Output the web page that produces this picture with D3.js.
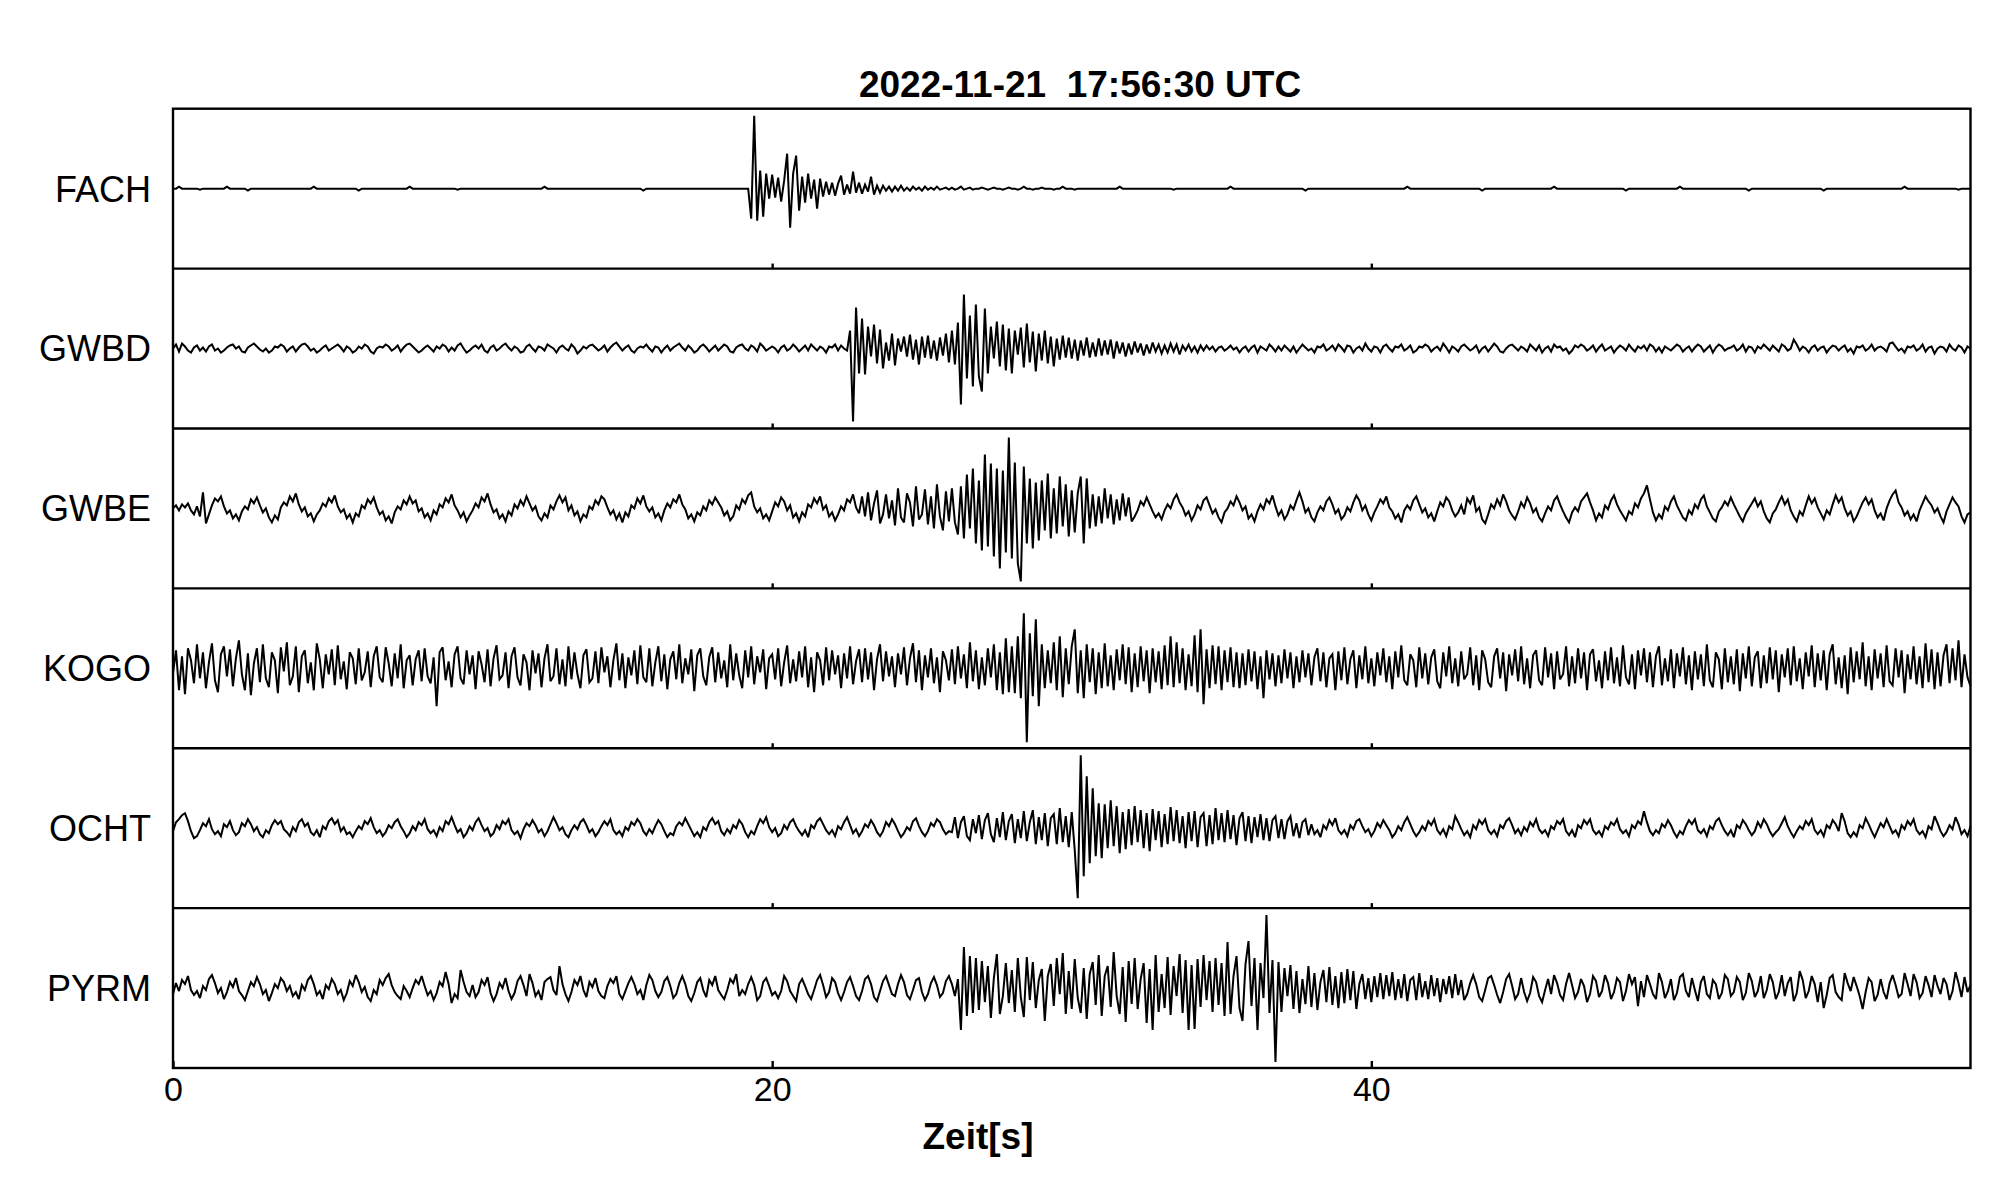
<!DOCTYPE html>
<html>
<head>
<meta charset="utf-8">
<script src="https://cdn.jsdelivr.net/npm/d3@7"></script>
<style>
  html, body { margin: 0; padding: 0; background: #fff; }
  svg { display: block; }
  text { font-family: "Liberation Sans", Arial, Helvetica, sans-serif; fill: #000; }
</style>
</head>
<body>
<svg id="chart" width="2005" height="1202"></svg>
<script>
// ---------------- data ----------------
const title = "2022-11-21  17:56:30 UTC";
const xLabel = "Zeit[s]";
const stations = ["FACH", "GWBD", "GWBE", "KOGO", "OCHT", "PYRM"];
const xTickValues = [0, 20, 40];
const timeSpan = [0, 60];          // seconds, samples every 0.1 s
const ampRange = [-80, 80];        // relative amplitude per trace

const FACH = [
0,0,2,0,0,0,0,0,0,-1,
0,0,0,0,0,0,0,0,2,0,
0,0,0,0,0,-2,0,0,0,0,
0,0,0,0,0,0,0,0,0,0,
0,0,0,0,0,0,0,2,0,0,
0,0,0,0,0,0,0,0,0,0,
0,0,-2,0,0,0,0,0,0,0,
0,0,0,0,0,0,0,0,0,2,
0,0,0,0,0,0,0,0,0,0,
0,0,0,0,0,-1,0,0,0,0,
0,0,0,0,0,0,0,0,0,0,
0,0,0,0,0,0,0,0,0,0,
0,0,0,0,2,0,0,0,0,0,
0,0,0,0,0,0,0,0,0,0,
0,0,0,0,0,0,0,0,0,0,
0,0,0,0,0,0,0,-2,0,0,
0,0,0,0,0,0,0,0,0,0,
0,0,0,0,0,0,0,0,0,0,
0,0,0,0,0,0,0,0,0,0,
0,0,0,-30,73,-32,18,-28,15,-10,
14,-9,11,-13,8,35,-39,15,33,-22,
12,-14,15,-10,9,-20,10,-8,7,-6,
6,-7,5,13,-6,4,-5,17,-4,6,
-5,4,-3,12,-6,3,-4,3,-2,2,
-3,2,-2,3,-2,1,-2,2,-1,1,
-2,2,-1,1,-1,2,-1,0,1,-1,
1,-1,0,2,-1,0,1,-1,0,0,
1,0,-1,0,1,0,0,-1,0,1,
0,0,-1,0,2,0,0,-1,0,0,
1,0,0,0,-1,0,0,2,0,0,
0,-1,0,0,0,0,0,0,0,0,
0,0,0,0,0,0,2,0,0,0,
0,0,0,0,0,0,0,0,0,0,
0,0,0,0,-1,0,0,0,0,0,
0,0,0,0,0,0,0,0,0,0,
0,0,0,2,0,0,0,0,0,0,
0,0,0,0,0,0,0,0,0,0,
0,0,0,0,0,0,0,0,-2,0,
0,0,0,0,0,0,0,0,0,0,
0,0,0,0,0,0,0,0,0,0,
0,0,0,0,0,0,0,0,0,0,
0,0,2,0,0,0,0,0,0,0,
0,0,0,0,0,0,0,0,0,0,
0,0,0,0,0,0,0,-2,0,0,
0,0,0,0,0,0,0,0,0,0,
0,0,0,0,0,0,0,0,0,0,
0,2,0,0,0,0,0,0,0,0,
0,0,0,0,0,0,0,0,0,0,
0,0,0,0,0,-2,0,0,0,0,
0,0,0,0,0,0,0,0,0,0,
0,0,0,2,0,0,0,0,0,0,
0,0,0,0,0,0,0,0,0,0,
0,0,0,0,0,0,-2,0,0,0,
0,0,0,0,0,0,0,0,0,0,
0,0,0,0,0,0,0,0,0,0,
0,-2,0,0,0,0,0,0,0,0,
0,0,0,0,0,0,0,0,0,0,
0,0,0,0,0,0,0,0,2,0,
0,0,0,0,0,0,0,0,0,0,
0,0,0,0,0,0,-1,0,0,0,
0];

const GWBD = [
0,4,-3,5,2,-2,-4,1,3,-2,
1,-3,2,4,-2,0,-4,-2,1,3,
4,0,2,-3,-4,1,3,5,2,-1,
-3,0,-4,-2,2,1,4,2,-3,0,
2,-3,1,4,5,2,-2,0,-4,-2,
1,3,-2,0,2,4,1,-3,2,0,
-4,-2,2,0,4,2,-3,-5,0,2,
1,4,2,-2,0,3,-3,1,4,5,
2,-1,-4,-2,1,3,0,-3,2,0,
4,2,-3,1,-2,3,5,0,-4,-2,
1,3,0,4,-2,-4,1,3,-2,0,
3,5,1,-2,2,0,-4,-3,2,4,
0,-3,2,1,-2,4,2,0,-4,1,
3,0,-2,4,1,-5,-2,2,0,3,
4,1,-2,0,3,-3,1,4,6,2,
-2,1,3,-2,-4,0,2,1,4,0,
-3,2,1,-4,0,3,-2,1,3,5,
1,-2,3,0,-4,-2,2,4,1,-3,
0,3,-2,1,4,2,-3,-4,1,3,
4,0,-2,3,1,-3,5,2,-2,0,
2,0,-4,1,3,-2,0,4,1,-3,
0,3,-2,4,1,-2,2,0,-4,2,
1,4,-2,3,0,-2,18,-73,41,-25,
30,-26,22,-8,24,-15,19,-20,6,-12,
15,-17,10,-3,12,-8,14,-11,9,-16,
12,-9,13,-10,8,-12,11,-7,15,-14,
18,-16,26,-56,54,-30,33,-38,44,-28,
-43,40,-25,22,-10,27,-18,24,-22,20,
-25,18,-6,21,-19,25,-14,17,-23,15,
-12,18,-15,12,-18,10,-11,13,-9,11,
-10,9,-12,8,-7,11,-9,6,-8,10,
-7,8,-6,9,-10,7,-5,6,-8,5,
-6,7,-4,5,-7,4,-5,6,-3,4,
-5,3,-4,5,-3,4,-6,3,-2,4,
-3,2,-4,3,-2,3,-1,2,-3,1,
2,-2,0,3,-1,1,-4,0,2,-3,
1,3,-4,2,0,-2,4,1,-3,2,
-2,3,0,-3,2,-4,0,4,1,-2,
0,-4,2,1,4,-2,0,3,-2,4,
1,-3,3,2,-4,0,2,-2,5,0,
-3,2,1,-4,2,4,0,-3,2,1,
4,-2,0,3,-4,-2,2,1,4,2,
-3,0,2,-2,5,1,-4,2,0,-3,
2,4,1,-2,0,3,-4,0,2,-3,
1,5,2,-3,-4,0,3,4,1,-2,
2,0,-3,4,1,-2,3,-4,0,2,
-3,4,1,2,-2,0,-5,-2,3,1,
4,2,-2,0,3,-3,1,4,-2,0,
2,-4,0,3,1,-2,4,0,-3,2,
0,3,-2,4,2,-3,1,-4,2,0,
-2,1,4,2,-3,0,2,-3,1,4,
2,-3,0,3,-4,1,4,2,-2,0,
1,3,-2,0,4,-3,2,1,-4,2,
0,4,1,-2,3,0,-3,4,2,-2,
0,9,4,-2,2,0,-4,1,3,-2,
1,2,-4,0,3,2,-2,1,3,-3,
0,-5,2,1,3,-2,0,4,-2,1,
2,0,-3,5,6,2,-2,0,-4,2,
1,3,-2,0,4,-3,1,2,-5,0,
2,1,-3,4,0,-2,3,1,-4,2,
0];

const GWBE = [
0,3,-2,4,1,5,-2,-6,2,-8,
16,-15,-6,3,10,7,12,2,-5,-2,
-10,-6,-12,-3,2,-1,9,5,11,3,
-4,0,-9,-14,-7,-11,1,6,3,12,
7,15,4,-3,1,-8,-5,-13,-6,-2,
5,2,10,6,13,2,-4,-1,-10,-6,
-14,-5,-8,3,0,9,5,11,1,-6,
-3,-12,-8,-15,-4,2,-1,8,4,12,
5,8,-3,0,-9,-5,-12,-2,-6,4,
1,10,6,14,3,-2,-9,-4,-13,-7,
-2,5,1,11,7,15,4,-4,-1,-10,
-6,-13,-3,-7,4,0,8,3,12,5,
-2,2,-8,-12,-5,-9,3,-1,7,13,
6,11,-2,3,-7,-3,-13,-6,-9,2,
-1,8,4,12,9,1,-6,-2,-11,-5,
-14,-4,-8,3,0,10,5,13,2,-3,
1,-9,-5,-12,-2,5,1,9,6,14,
4,-1,-10,-6,-13,-4,-7,2,-2,8,
4,11,6,1,-7,-3,-12,-8,3,-1,
9,5,13,16,2,-4,0,-10,-6,-12,
-3,6,2,11,7,-2,3,-9,-5,-13,
-4,-8,4,1,10,5,12,-1,3,-8,
-4,-12,-6,2,-2,9,6,14,1,-5,
12,-8,16,-12,5,18,-15,-6,14,-10,
8,-17,20,-9,-14,15,6,-18,22,-11,
-6,19,-16,12,-20,24,-8,-22,17,-13,
20,-14,-26,22,-30,34,-20,40,-35,28,
-42,54,-38,45,-48,40,-60,38,-44,71,
-50,46,-55,-73,42,-35,30,-40,26,-32,
28,-22,35,-30,20,-25,32,-18,24,-28,
18,-24,15,32,-35,30,-20,14,-18,12,
-15,20,-10,14,-16,9,-12,15,-8,11,
-13,-8,-2,7,3,11,4,-3,-9,-5,
-11,-2,4,0,9,14,6,1,-7,-3,
-12,-6,3,-1,8,11,3,-5,-1,-9,
-14,-4,0,7,3,12,6,-2,2,-10,
-6,-13,-3,4,-1,9,5,13,2,-7,
-2,-11,-6,3,-1,8,16,7,-4,0,
-9,-13,-4,2,-2,7,11,4,-5,-1,
-11,-7,1,-3,6,13,8,-2,3,-6,
-12,-4,2,9,5,12,1,-3,-10,-6,
-14,-2,3,-1,8,12,4,-4,0,-9,
-5,-13,-3,6,2,11,7,-2,-8,-4,
3,-6,10,5,13,-3,1,-11,-15,-6,
4,0,9,3,14,7,-2,-7,-11,-3,
6,1,11,5,-4,0,-9,-13,-5,2,
-2,8,12,4,-3,-9,-14,-4,1,-3,
7,11,15,6,-2,-12,-5,-9,3,-1,
8,13,4,-2,-7,-12,-3,-6,5,1,
10,15,23,9,-4,-12,-6,-10,2,-2,
7,12,3,-3,-9,-12,-2,-6,4,0,
9,13,2,-4,-10,-13,-3,1,7,3,
11,4,-2,-8,-13,-5,0,5,10,2,
7,-3,-10,-14,-5,-1,6,12,4,9,
-2,-8,-13,-3,-7,3,12,5,10,1,
-5,-11,-2,-6,4,13,6,11,0,-7,
-3,-13,-8,-1,6,11,4,9,-2,-9,
-5,-12,0,8,14,18,6,1,-7,-3,
-11,-6,-13,-2,5,12,7,3,-4,0,
-8,-14,-3,4,11,6,2,-8,-14,-6,
-4];

const KOGO = [
-5,18,-22,12,-26,20,8,-15,24,-10,
16,-20,6,25,-12,-24,14,22,-8,19,
-18,10,28,-6,-22,15,-27,5,20,-14,
24,-10,-19,16,8,-25,21,-3,26,-17,
-8,22,-24,12,18,-15,6,-22,25,9,
-20,14,-6,19,-17,23,-11,7,-21,16,
10,-16,20,-12,-4,17,-19,12,22,-9,
-14,21,5,-18,15,-10,24,-20,8,13,
-17,9,18,-13,20,-8,-15,11,-38,16,
21,-12,7,-19,14,22,-10,-16,18,-6,
13,-21,17,4,-14,19,-18,10,23,-11,
-7,16,-20,12,21,-9,-17,14,6,-22,
18,-5,15,-19,10,24,-13,-8,20,-16,
9,-18,22,-11,16,-6,-20,13,19,-14,
-10,17,-15,21,-4,12,-19,8,25,-12,
15,-20,11,-7,18,-16,23,-9,-14,20,
-18,6,22,-13,14,-21,9,17,-11,24,
-15,10,-6,19,-23,13,20,-8,-17,11,
21,-14,16,-10,8,-19,24,-12,15,-7,
-20,18,-9,22,-16,12,-4,19,-21,10,
14,-11,20,-18,6,23,-15,9,-13,17,
-9,22,-19,11,-24,16,8,-17,21,-12,
18,-6,13,-20,15,-10,22,-16,7,19,
-14,20,-11,16,-22,9,24,-13,17,-8,
12,-19,15,-6,21,-17,10,25,-14,18,
-22,13,-9,20,-15,11,-24,17,8,-12,
19,-16,22,-10,14,-20,26,-13,18,-21,
11,-17,20,-9,24,-22,16,-26,30,-24,
22,-25,32,-30,55,-74,35,-28,49,-38,
24,-20,18,-15,26,-22,32,-29,20,-16,
22,39,-25,18,-30,24,-14,20,-26,16,
-20,25,-18,13,-22,19,-12,24,-16,21,
-24,15,-19,22,-13,18,-25,20,-14,17,
-21,23,-17,32,-19,26,-15,20,-22,14,
-18,33,-24,39,-36,19,-20,23,-16,22,
-22,18,-14,21,-19,16,-20,15,-17,19,
-13,17,-21,12,-30,18,-11,15,-18,13,
-15,19,-10,16,-20,12,-14,18,-9,15,
-17,11,20,-13,16,-19,10,14,-22,17,
-12,21,-16,9,18,-20,13,-11,22,-15,
10,-18,16,-7,20,-14,12,-21,17,-9,
23,-12,-17,14,8,-19,21,-10,15,-16,
11,19,-13,-20,16,-8,22,-15,10,-18,
17,-11,-6,21,-17,13,-22,18,9,-14,
-19,12,20,-10,16,-23,14,-7,19,-13,
22,-16,10,-20,13,18,-12,-17,21,-9,
15,-21,17,-11,-6,22,-18,12,-15,20,
-10,16,-22,14,19,-13,8,-20,17,-12,
21,-15,11,-18,23,-9,-16,14,-21,18,
-7,20,-14,16,-19,12,22,-17,10,-13,
19,-20,15,-8,21,-16,13,-22,17,-11,
14,-18,24,-12,-19,16,9,-21,20,-14,
12,-16,19,-23,15,-10,22,-18,11,17,
-20,13,-15,21,-11,18,-24,14,-9,20,
-17,22,-13,10,-21,16,-8,23,-19,15,
-12,18,-22,14,24,-16,11,-20,13,-26,
21,-14,17,-11,26,-18,12,-22,19,-10,
15,-19,23,-13,-17,20,-9,18,-25,14,
-11,22,-16,12,-20,25,-14,19,-21,16,
-18,13,24,-15,20,-12,28,-19,14,-9,
-18];

const OCHT = [
-3,6,9,13,15,7,-3,-10,-8,-2,
5,2,9,-1,-6,-3,-8,4,1,7,
-2,-7,-4,5,2,9,4,-3,1,-6,
-9,-2,-5,3,8,4,7,-1,-4,-8,
1,-3,6,9,2,5,-4,-7,-2,-9,
2,-1,7,10,4,8,-3,1,-6,-4,
-9,-3,2,-1,7,4,10,1,-5,-2,
-8,-4,3,0,6,9,2,-3,-9,-5,
2,-2,6,3,9,-1,-5,-2,-8,1,
-3,7,4,11,3,-4,-1,-9,-5,2,
-2,6,10,3,-3,0,-8,-5,3,-1,
7,4,9,-2,-6,-3,-10,-1,5,2,
8,3,-4,-1,-8,-3,4,11,5,-2,
1,-6,-9,-2,3,-1,6,9,3,-4,
-1,-8,-4,2,7,3,9,-2,-6,-3,
-8,1,-2,6,3,9,5,-3,-7,-1,
-5,2,8,4,-3,-9,-5,-7,2,6,
3,10,4,-2,-8,-4,-9,1,-2,6,
10,4,7,-3,-7,-1,-5,3,0,8,
4,-4,-9,-3,-6,2,9,5,11,1,
-4,0,-8,-5,3,-1,6,9,2,-3,
-7,-2,-9,3,0,7,10,4,-2,-6,
-2,-8,2,-1,6,11,3,-5,-1,-8,
-3,4,1,8,3,-4,-8,-3,6,2,
9,4,-3,-9,-5,1,-2,7,10,2,
-4,-8,-3,5,2,9,6,-1,-6,-3,
-4,11,-10,6,12,-8,-12,9,-5,13,
-11,8,15,-6,-14,10,-9,16,-12,7,
14,-15,9,-10,17,-13,6,18,-16,11,
-12,15,-18,10,14,-16,20,-14,12,-19,
16,-22,-70,73,-48,52,-35,40,-28,25,
-30,24,-20,28,-18,22,-25,16,-21,19,
-17,22,-14,18,-20,15,-23,19,-12,17,
-19,14,-16,21,-13,18,-15,12,-20,16,
-13,17,-19,11,15,-18,13,-16,20,-12,
15,-14,18,-11,13,-17,10,16,-13,12,
-15,11,-9,14,-12,10,-13,8,12,-10,
9,-11,7,12,-8,5,-10,6,9,-7,
4,-6,-2,-9,3,-1,8,3,10,-2,
-6,-2,-8,3,-1,7,9,2,-4,-1,
-8,-3,5,1,8,3,-2,-9,-5,2,
-2,6,11,4,-3,-8,-4,2,-2,7,
3,9,-2,-6,-1,-8,2,-1,12,6,
-1,-7,-3,-9,3,-1,8,4,9,-2,
-6,-2,-8,3,0,7,10,3,-5,-1,
-7,1,-3,6,2,9,-1,-5,-2,-8,
2,-1,7,4,9,-3,-7,-2,-9,3,
0,8,4,9,-2,-6,-3,-8,2,-1,
6,3,9,-1,-5,-2,-8,3,0,7,
4,17,6,-3,-7,-2,-5,4,1,8,
3,-4,-9,-3,-6,2,8,4,9,-2,
-5,-1,-8,2,-1,7,10,3,-3,-7,
-2,-9,3,0,8,4,-2,-7,-3,6,
1,9,4,-3,-8,-4,-1,5,11,2,
-4,-9,-3,2,-1,7,3,9,-2,-6,
-2,-8,3,0,8,4,-3,15,7,-5,
-9,-4,-8,3,0,10,4,-3,-9,-2,
5,1,9,2,-5,-2,-8,3,-1,7,
3,9,-2,-6,-3,-9,2,-1,12,5,
-3,-8,-4,3,-1,11,4,-6,-2,-8,
2];

const PYRM = [
-6,5,-3,8,4,12,-2,-7,-3,-10,
2,-2,9,13,5,-5,0,-11,-4,6,
1,10,-3,-7,-12,-3,6,2,11,4,
-6,-2,-13,-5,4,0,10,6,-3,2,
-8,-4,-11,3,-2,8,12,4,-7,-3,
-11,3,-1,9,4,-6,-2,-12,-5,7,
2,13,6,-4,1,-9,-13,-2,-6,8,
3,10,14,3,-4,-8,-11,2,-3,-9,
0,8,4,12,2,-7,-3,-12,-5,6,
2,16,4,-15,-6,-10,18,6,-4,-8,
3,-9,-4,8,3,11,-5,-13,-6,5,
0,10,-3,-11,-5,7,12,3,-8,14,
5,-8,-3,-12,6,9,11,-2,-7,22,
4,-6,-13,-4,8,3,12,-2,-9,6,
1,10,-3,-8,-10,2,9,5,12,-6,
-11,-3,5,11,4,-6,-2,-12,3,13,
8,-3,-9,-4,7,11,2,-10,-6,5,
12,4,-8,-13,-5,6,10,-2,-9,8,
3,12,-2,-7,-11,-2,9,5,14,-8,
-2,-6,4,11,3,-12,-8,6,10,2,
-7,-4,-10,-3,12,7,-3,-8,-13,4,
9,2,-6,-11,-2,8,13,3,-9,-4,
10,6,-5,-12,-4,6,11,2,-8,-12,
-3,9,12,4,-9,-13,-3,7,12,3,
-6,-8,4,13,6,-7,-11,-2,8,10,
-4,-12,-6,5,11,3,-9,-5,7,12,
4,-8,9,-42,41,-28,32,-25,30,-22,
27,-14,22,-30,10,34,-26,-8,25,-15,
18,-24,30,-9,-29,31,-12,26,-20,8,
19,-33,12,24,-18,30,-6,35,-26,17,
-21,29,-10,-25,20,-31,14,26,-17,33,
-28,12,22,-19,36,-8,-26,21,-34,27,
-16,30,-21,9,25,-35,19,-42,33,-24,
14,-20,31,-27,22,-8,34,-25,28,-42,
23,-41,29,-19,33,-12,27,-24,30,-17,
25,-28,46,-26,12,32,-20,-33,24,47,
-18,30,-42,25,-10,73,-25,28,-74,26,
-24,20,-8,23,-21,17,-25,9,-16,22,
-19,15,-22,6,18,-14,21,-17,12,-20,
16,-15,19,-12,17,-21,4,14,-11,10,
-14,12,-9,15,-11,13,-8,16,-12,9,
-10,14,-13,8,11,-12,15,-9,7,-11,
13,-8,10,-14,9,-6,12,-10,14,-7,
8,-12,-6,5,13,4,-9,-13,-2,10,
12,3,-7,-15,-4,9,14,2,-11,-6,
10,-4,-13,-5,11,6,-8,-14,-2,9,
-6,13,5,-7,-12,4,15,3,-10,-4,
9,2,-14,-6,12,7,-9,-3,13,5,
-11,-4,10,6,-13,-3,14,4,11,-18,
7,-9,13,4,-6,-11,15,6,-10,-3,
9,-12,-5,11,14,-3,-9,10,-2,-13,
6,12,-6,-10,8,4,-11,-5,13,9,
-8,-4,11,6,-12,-5,15,7,-9,-3,
12,-10,-2,14,6,-11,-4,13,-8,5,
11,-13,-5,17,8,-10,-3,12,4,-14,
6,-20,-7,10,13,-4,-9,-12,15,5,
-3,11,2,-8,-21,-4,10,6,-13,-7,
9,-4,-11,5,13,3,-9,-6,15,4,
-8,14,6,-10,-5,12,3,-9,13,2,
-6,10,4,-12,-3,16,5,-9,11,-4,
3];

const traces = [
  { station: "FACH", values: FACH },
  { station: "GWBD", values: GWBD },
  { station: "GWBE", values: GWBE },
  { station: "KOGO", values: KOGO },
  { station: "OCHT", values: OCHT },
  { station: "PYRM", values: PYRM }
];

// ---------------- layout ----------------
const plotLeft = 173, plotRight = 1970.5, plotTop = 108.7, plotBottom = 1068;
const svg = d3.select("#chart");

const x = d3.scaleLinear().domain(timeSpan).range([plotLeft, plotRight]);
const band = d3.scaleBand().domain(stations).range([plotTop, plotBottom]).padding(0);

traces.forEach(tr => {
  const top = band(tr.station), h = band.bandwidth();
  const y = d3.scaleLinear().domain(ampRange).range([top + h, top]);
  const n = tr.values.length;
  const dt = (timeSpan[1] - timeSpan[0]) / (n - 1);
  const line = d3.line()
    .x((d, i) => x(timeSpan[0] + i * dt))
    .y(d => y(d));
  svg.append("path")
    .datum(tr.values)
    .attr("d", line)
    .attr("fill", "none")
    .attr("stroke", "#000")
    .attr("stroke-width", 2)
    .attr("stroke-linejoin", "miter")
    .attr("stroke-miterlimit", 3);

  svg.append("text")
    .attr("x", 151)
    .attr("y", top + h / 2)
    .attr("dy", "0.36em")
    .attr("text-anchor", "end")
    .attr("font-size", 36)
    .text(tr.station);

  if (tr.station !== stations[stations.length - 1]) {
    const g = svg.append("g").attr("transform", `translate(0,${top + h})`);
    g.call(d3.axisBottom(x).tickValues(xTickValues.filter(v => v > timeSpan[0])).tickSize(-5).tickFormat(""));
    g.select(".domain").remove();
    g.selectAll(".tick line").attr("stroke", "#000").attr("stroke-width", 2.4);
  }
});

svg.selectAll("line.divider")
  .data(stations.slice(1))
  .enter().append("line")
  .attr("class", "divider")
  .attr("x1", plotLeft).attr("x2", plotRight)
  .attr("y1", d => band(d)).attr("y2", d => band(d))
  .attr("stroke", "#000").attr("stroke-width", 2.4);

svg.append("rect")
  .attr("x", plotLeft).attr("y", plotTop)
  .attr("width", plotRight - plotLeft).attr("height", plotBottom - plotTop)
  .attr("fill", "none").attr("stroke", "#000").attr("stroke-width", 2.4);

const ax = svg.append("g").attr("transform", `translate(0,${plotBottom})`);
ax.call(d3.axisBottom(x).tickValues(xTickValues).tickSize(-7).tickPadding(9).tickFormat(d3.format("d")));
ax.select(".domain").remove();
ax.selectAll(".tick line").attr("stroke", "#000").attr("stroke-width", 2.4);
ax.selectAll(".tick text")
  .attr("font-size", 34)
  .attr("fill", "#000")
  .style("font-family", '"Liberation Sans", Arial, Helvetica, sans-serif');

svg.append("text")
  .attr("x", 1080).attr("y", 96.5)
  .attr("text-anchor", "middle")
  .attr("font-size", 37)
  .attr("font-weight", "bold")
  .style("white-space", "pre")
  .attr("xml:space", "preserve")
  .text(title);

svg.append("text")
  .attr("x", 978).attr("y", 1149)
  .attr("text-anchor", "middle")
  .attr("font-size", 37)
  .attr("font-weight", "bold")
  .text(xLabel);
</script>
</body>
</html>
